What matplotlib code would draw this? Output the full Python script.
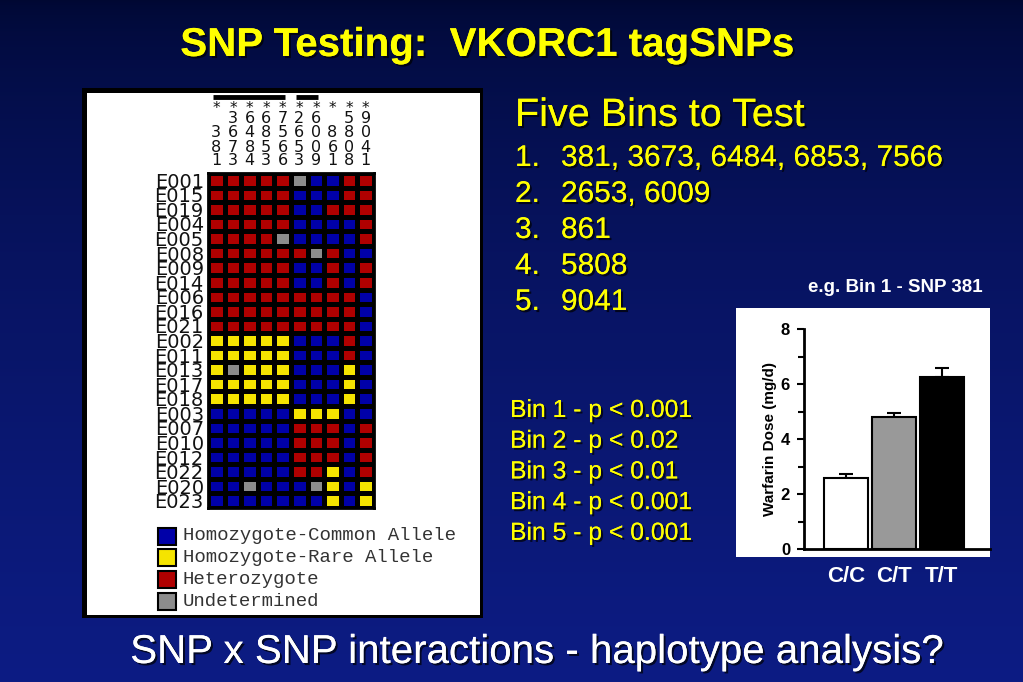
import numpy as np
import matplotlib
matplotlib.use('Agg')
import matplotlib.pyplot as plt
import matplotlib.patheffects as pe
from matplotlib.colors import ListedColormap
from matplotlib.patches import Rectangle

W, H = 1023, 682

# tagSNP panel data
snp_ids = ['381', '3673', '6484', '6853', '7566', '2653', '6009', '861', '5808', '9041']
samples = ['E001', 'E015', 'E019', 'E004', 'E005', 'E008', 'E009', 'E014', 'E006', 'E016',
           'E021', 'E002', 'E011', 'E013', 'E017', 'E018', 'E003', 'E007', 'E010', 'E012',
           'E022', 'E020', 'E023']
# B = homozygote common, Y = homozygote rare, R = heterozygote, G = undetermined
genotypes = [
    'RRRRRGBBRR', 'RRRRRBBBRR', 'RRRRRBBRRR', 'RRRRRBBBBR', 'RRRRGBBBBR',
    'RRRRRRGRBB', 'RRRRRBBRBR', 'RRRRRBBRBR', 'RRRRRRRRRB', 'RRRRRRRRRB',
    'RRRRRRRRRB', 'YYYYYBBBRB', 'YYYYYBBBRB', 'YGYYYBBBYB', 'YYYYYBBBYB',
    'YYYYYBBBYB', 'BBBBBYYYBB', 'BBBBBRRRBR', 'BBBBBRRRBR', 'BBBBBRRRBR',
    'BBBBBRRYBR', 'BBGBBBGYBY', 'BBBBBBBYBY',
]
linked_groups = [(0, 4), (5, 6)]
legend_labels = ['Homozygote-Common Allele', 'Homozygote-Rare Allele', 'Heterozygote', 'Undetermined']
code_of = {'B': 0, 'Y': 1, 'R': 2, 'G': 3}
cell_colors = ['#0000a8', '#f5e400', '#b00000', '#8c8c8c']

# bins / p values
bin_snps = ['381, 3673, 6484, 6853, 7566', '2653, 6009', '861', '5808', '9041']
bin_p = ['0.001', '0.02', '0.01', '0.001', '0.001']

# warfarin dose by genotype
geno_labels = ['C/C', 'C/T', 'T/T']
dose = [2.6, 4.8, 6.25]
dose_err = [0.12, 0.15, 0.35]
bar_colors = ['white', '#999999', 'black']


def px_axes(x0, y0, x1, y1):
    return fig.add_axes([x0 / W, 1 - y1 / H, (x1 - x0) / W, (y1 - y0) / H])


fig = plt.figure(figsize=(W / 100, H / 100), dpi=100)
bg = fig.add_axes([0, 0, 1, 1])
bg.set_xlim(0, W)
bg.set_ylim(H, 0)
bg.axis('off')

# slide background gradient
t = np.linspace(0, 1, H) ** 0.6
top = np.array([0, 8, 50]) / 255
bot = np.array([13, 28, 132]) / 255
grad = (top[None, :] * (1 - t[:, None]) + bot[None, :] * t[:, None])[:, None, :]
bg.imshow(grad, extent=[0, W, H, 0], aspect='auto', zorder=0)

shadow = [pe.withSimplePatchShadow(offset=(1.5, -1.5), shadow_rgbFace='black', alpha=0.7), pe.Normal()]
sans = 'Liberation Sans'

bg.text(487, 45, 'SNP Testing:  VKORC1 tagSNPs', ha='center', va='center', color='#ffff00',
        fontsize=29, fontweight='bold', family=sans, path_effects=shadow)
bg.text(537, 652, 'SNP x SNP interactions - haplotype analysis?', ha='center', va='center',
        color='white', fontsize=29, family=sans, path_effects=shadow)

# bins list
bg.text(515, 115, 'Five Bins to Test', ha='left', va='center', color='#ffff00', fontsize=28.5,
        family=sans, path_effects=shadow)
for i, s in enumerate(bin_snps):
    y = 158 + i * 36
    bg.text(515, y, f'{i + 1}.', ha='left', va='center', color='#ffff00', fontsize=21.5,
            family=sans, path_effects=shadow)
    bg.text(561, y, s, ha='left', va='center', color='#ffff00', fontsize=21.5,
            family=sans, path_effects=shadow)

for i, p in enumerate(bin_p):
    bg.text(510, 410 + i * 30.7, f'Bin {i + 1} - p < {p}', ha='left', va='center',
            color='#ffff00', fontsize=17.8, family=sans, path_effects=shadow)

bg.text(895, 287, 'e.g. Bin 1 - SNP 381', ha='center', va='center', color='white',
        fontsize=13.5, fontweight='bold', family=sans)

# white panels
bg.add_patch(Rectangle((82, 88), 401, 530, facecolor='black', zorder=1))
bg.add_patch(Rectangle((87, 93), 393, 522, facecolor='white', zorder=2))
bg.add_patch(Rectangle((736, 308), 254, 249, facecolor='white', zorder=1))

# legend of heatmap
for k, lab in enumerate(legend_labels):
    y = 536 + k * 21.7
    bg.add_patch(Rectangle((158, y - 8.5), 18, 17, facecolor=cell_colors[k], edgecolor='black',
                           lw=1.5, zorder=3))
    bg.text(183, y, lab, ha='left', va='center', color='#333333', fontsize=13.7,
            family='Liberation Mono', zorder=3)

# heatmap
codes = np.array([[code_of[c] for c in row] for row in genotypes])
hm = px_axes(208, 173, 374, 508)
hm.set_facecolor('black')
hm.pcolormesh(np.arange(len(snp_ids) + 1), np.arange(len(samples) + 1), codes,
              cmap=ListedColormap(cell_colors), vmin=-0.5, vmax=3.5,
              edgecolors='black', linewidth=2.2)
hm.set_xlim(0, len(snp_ids))
hm.set_ylim(len(samples), 0)
for s in hm.spines.values():
    s.set_linewidth(2)
hm.set_xticks([])
hm.set_yticks(np.arange(len(samples)) + 0.5, samples, fontsize=14, family='DejaVu Sans')
hm.tick_params(axis='y', length=0, pad=3, colors='#111111')

header_y = [-3.71, -2.75, -1.78, -0.89]
for i, sid in enumerate(snp_ids):
    for k, ch in enumerate(sid.rjust(4)):
        hm.text(i + 0.5, header_y[k], ch, ha='center', va='center', fontsize=11.5,
                family='DejaVu Sans', color='#111111', clip_on=False)
    hm.text(i + 0.5, -4.4, '*', ha='center', va='center', fontsize=11,
            family='DejaVu Sans', color='#111111', clip_on=False)
for c0, c1 in linked_groups:
    hm.plot([c0 + 0.3, c1 + 0.65], [-5.22, -5.22], color='black', lw=3.5,
            solid_capstyle='butt', clip_on=False)

# warfarin bar chart
bc = px_axes(804, 329, 990, 549)
bc.patch.set_alpha(0)
x = np.arange(len(geno_labels))
bc.bar(x, dose, width=0.92, color=bar_colors, edgecolor='black', lw=1.5, zorder=2)
bc.errorbar(x, dose, yerr=[np.zeros(len(dose)), dose_err], fmt='none', ecolor='black',
            elinewidth=1.5, capsize=5, capthick=1.5, zorder=1)
bc.set_xlim(-0.884, 3.01)
bc.set_ylim(0, 8)
bc.spines['top'].set_visible(False)
bc.spines['right'].set_visible(False)
bc.spines['left'].set_linewidth(2)
bc.spines['bottom'].set_linewidth(2)
bc.set_yticks([0, 2, 4, 6, 8])
bc.set_yticks([1, 3, 5, 7], minor=True)
bc.set_yticklabels(['0', '2', '4', '6', '8'], fontsize=12, fontweight='bold', family=sans)
bc.tick_params(axis='y', which='major', length=5, width=1.5, pad=5)
bc.tick_params(axis='y', which='minor', length=4, width=1.5)
bc.set_ylabel('Warfarin Dose (mg/d)', fontsize=11, fontweight='bold', family=sans, labelpad=3)
bc.set_xticks(x, geno_labels, fontsize=16, fontweight='bold', family=sans, color='white')
bc.tick_params(axis='x', length=0, pad=12)

fig.savefig('out.png', dpi=100)
